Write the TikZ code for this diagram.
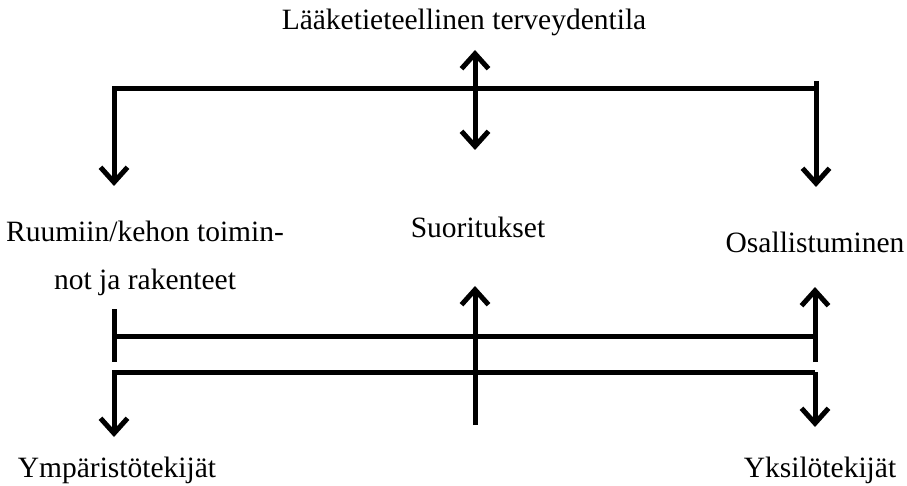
\documentclass[tikz,border=0pt]{standalone}
\usepackage{fontspec}
\setmainfont{Liberation Serif}
\usetikzlibrary{arrows.meta}
\tikzset{
  lbl/.style={anchor=base, inner sep=0pt, font=\fontsize{29.5}{48}\selectfont},
  conn/.style={line width=5pt},
  tipa/.tip={Straight Barb[length=15pt,width=27pt]},
  arr/.style={conn, -tipa},
  darr/.style={conn, tipa-tipa},
}
\begin{document}
\begin{tikzpicture}[x=1pt,y=-1pt]
\useasboundingbox (0,0) rectangle (907,486);
% labels
\node[lbl] (health) at (464,30) {Lääketieteellinen terveydentila};
\node[lbl, align=center] (body) at (145,290) {Ruumiin/kehon toimin-\\not ja rakenteet};
\node[lbl] (act) at (478,238) {Suoritukset};
\node[lbl] (part) at (815,253) {Osallistuminen};
\node[lbl] (env) at (117,477) {Ympäristötekijät};
\node[lbl] (pers) at (820,477) {Yksilötekijät};
% junction coordinates
\coordinate (tl) at (114,89);
\coordinate (tr) at (816,89);
\coordinate (trtop) at (816,81);
\coordinate (tlend) at (114,186);
\coordinate (trend) at (816,187);
\coordinate (mtop) at (475,50);
\coordinate (mbot) at (475,150);
\coordinate (bltop) at (114,309);
\coordinate (blbot) at (114,362);
\coordinate (ml) at (114,336);
\coordinate (mr) at (815,336);
\coordinate (rup) at (815,287);
\coordinate (rbot) at (815,362);
\coordinate (cbot) at (475,425);
\coordinate (cup) at (475,286);
\coordinate (ll) at (114,372);
\coordinate (lr) at (815,372);
\coordinate (lldown) at (114,437);
\coordinate (lrdown) at (815,427);
% top structure
\draw[arr] (tr) -- (tl) -- (tlend);
\draw[arr] (trtop) -- (trend);
\draw[darr] (mtop) -- (mbot);
% bottom structure
\draw[conn] (bltop) -- (blbot);
\draw[conn] (ml) -- (mr);
\draw[arr] (rbot) -- (rup);
\draw[arr] (cbot) -- (cup);
\draw[arr] (lr) -- (ll) -- (lldown);
\draw[arr] (lr) -- (lrdown);
\end{tikzpicture}
\end{document}
